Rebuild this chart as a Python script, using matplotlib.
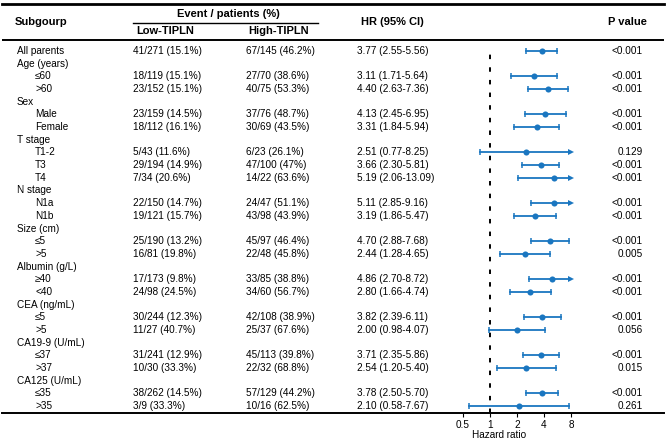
import numpy as np
import matplotlib
matplotlib.use('Agg')
import matplotlib.pyplot as plt

plt.rcParams['font.family'] = ['Liberation Sans', 'DejaVu Sans']

#-------------------------------------------------------------------------
# table data (None for group header rows)
labels = ['All parents', 'Age (years)', '\u226460', '>60', 'Sex', 'Male', 'Female',
          'T stage', 'T1-2', 'T3', 'T4', 'N stage', 'N1a', 'N1b',
          'Size (cm)', '\u22645', '>5', 'Albumin (g/L)', '\u226540', '<40',
          'CEA (ng/mL)', '\u22645', '>5', 'CA19-9 (U/mL)', '\u226437', '>37',
          'CA125 (U/mL)', '\u226435', '>35']
indent = [0, 0, 1, 1, 0, 1, 1, 0, 1, 1, 1, 0, 1, 1, 0, 1, 1, 0, 1, 1,
          0, 1, 1, 0, 1, 1, 0, 1, 1]
low_tipln = ['41/271 (15.1%)', None, '18/119 (15.1%)', '23/152 (15.1%)', None,
             '23/159 (14.5%)', '18/112 (16.1%)', None, '5/43 (11.6%)',
             '29/194 (14.9%)', '7/34 (20.6%)', None, '22/150 (14.7%)',
             '19/121 (15.7%)', None, '25/190 (13.2%)', '16/81 (19.8%)', None,
             '17/173 (9.8%)', '24/98 (24.5%)', None, '30/244 (12.3%)',
             '11/27 (40.7%)', None, '31/241 (12.9%)', '10/30 (33.3%)', None,
             '38/262 (14.5%)', '3/9 (33.3%)']
high_tipln = ['67/145 (46.2%)', None, '27/70 (38.6%)', '40/75 (53.3%)', None,
              '37/76 (48.7%)', '30/69 (43.5%)', None, '6/23 (26.1%)',
              '47/100 (47%)', '14/22 (63.6%)', None, '24/47 (51.1%)',
              '43/98 (43.9%)', None, '45/97 (46.4%)', '22/48 (45.8%)', None,
              '33/85 (38.8%)', '34/60 (56.7%)', None, '42/108 (38.9%)',
              '25/37 (67.6%)', None, '45/113 (39.8%)', '22/32 (68.8%)', None,
              '57/129 (44.2%)', '10/16 (62.5%)']
hr = [3.77, None, 3.11, 4.40, None, 4.13, 3.31, None, 2.51, 3.66, 5.19, None,
      5.11, 3.19, None, 4.70, 2.44, None, 4.86, 2.80, None, 3.82, 2.00, None,
      3.71, 2.54, None, 3.78, 2.10]
ci_low = [2.55, None, 1.71, 2.63, None, 2.45, 1.84, None, 0.77, 2.30, 2.06, None,
          2.85, 1.86, None, 2.88, 1.28, None, 2.70, 1.66, None, 2.39, 0.98, None,
          2.35, 1.20, None, 2.50, 0.58]
ci_high = [5.56, None, 5.64, 7.36, None, 6.95, 5.94, None, 8.25, 5.81, 13.09, None,
           9.16, 5.47, None, 7.68, 4.65, None, 8.72, 4.74, None, 6.11, 4.07, None,
           5.86, 5.40, None, 5.70, 7.67]
pvals = ['<0.001', None, '<0.001', '<0.001', None, '<0.001', '<0.001', None,
         '0.129', '<0.001', '<0.001', None, '<0.001', '<0.001', None, '<0.001',
         '0.005', None, '<0.001', '<0.001', None, '<0.001', '0.056', None,
         '<0.001', '0.015', None, '<0.001', '0.261']
xticks = [0.5, 1, 2, 4, 8]

#-------------------------------------------------------------------------
W, H = 667, 442
fig = plt.figure(figsize=(W/100.0, H/100.0), dpi=100)

# axes spans whole table, forest part uses log2 x scale
left_px, right_px = 2, 664
top_px, bot_px = 4, 413
ax = fig.add_axes([left_px/W, 1 - bot_px/H, (right_px-left_px)/W, (bot_px-top_px)/H])

row0_px, row_step = 51.0, 12.68
def row(px):
    return (px - row0_px)/row_step

one_px, px_per_oct = 490.0, 27.0
ax.set_xscale('log', base=2)
ax.set_xlim(2**((left_px-one_px)/px_per_oct), 2**((right_px-one_px)/px_per_oct))
ax.set_ylim(row(bot_px), row(top_px))

def fx(px):
    return (px - left_px)/(right_px - left_px)

tr = ax.get_yaxis_transform()
fs = 7.2
hfs = 8

# headers
ax.text(fx(15), row(22), 'Subgourp', transform=tr, fontsize=hfs, fontweight='bold', va='center')
ax.text(fx(228), row(14), 'Event / patients (%)', transform=tr, fontsize=hfs, fontweight='bold', va='center', ha='center')
ax.plot([fx(133), fx(318)], [row(23), row(23)], transform=tr, color='black', lw=1.0, clip_on=False)
ax.text(fx(165), row(31.5), 'Low-TIPLN', transform=tr, fontsize=hfs, fontweight='bold', va='center', ha='center')
ax.text(fx(279), row(31.5), 'High-TIPLN', transform=tr, fontsize=hfs, fontweight='bold', va='center', ha='center')
ax.text(fx(392), row(22), 'HR (95% CI)', transform=tr, fontsize=hfs, fontweight='bold', va='center', ha='center')
ax.text(fx(647), row(22), 'P value', transform=tr, fontsize=hfs, fontweight='bold', va='center', ha='right')
ax.axhline(row(40), color='black', lw=1.4)

# table rows
for i in range(len(labels)):
    x0 = 35 if indent[i] else 17
    ax.text(fx(x0), i, labels[i], transform=tr, fontsize=fs, va='center')
    if low_tipln[i] is not None:
        ax.text(fx(133), i, low_tipln[i], transform=tr, fontsize=fs, va='center')
        ax.text(fx(246), i, high_tipln[i], transform=tr, fontsize=fs, va='center')
        ax.text(fx(357), i, '%.2f (%.2f-%.2f)' % (hr[i], ci_low[i], ci_high[i]),
                transform=tr, fontsize=fs, va='center')
        ax.text(fx(643), i, pvals[i], transform=tr, fontsize=fs, va='center', ha='right')

# forest
blue = '#1a76c0'
xmax = 8
ax.axvline(1, ymin=0, ymax=(row(bot_px)-row(47))/(row(bot_px)-row(top_px)),
           color='black', lw=1.4, linestyle=(0, (2.3, 4.2)))
for i in range(len(labels)):
    if hr[i] is None:
        continue
    hi = min(ci_high[i], xmax)
    ax.plot([ci_low[i], hi], [i, i], color=blue, lw=1.3)
    ax.plot([ci_low[i]], [i], marker='|', color=blue, ms=4, mew=1.1)
    if ci_high[i] > xmax:
        ax.plot([xmax], [i], marker='>', color=blue, ms=4, mew=0)
    else:
        ax.plot([hi], [i], marker='|', color=blue, ms=4, mew=1.1)
    ax.plot([hr[i]], [i], marker='o', color=blue, ms=4.4, mew=0)

ax.set_xticks(xticks)
ax.set_xticklabels(['0.5', '1', '2', '4', '8'])
ax.xaxis.set_minor_locator(matplotlib.ticker.NullLocator())
ax.tick_params(axis='x', labelsize=fs, length=3, width=0.8, pad=2)
ax.set_yticks([])
ax.text(fx(499), row(435), 'Hazard ratio', transform=tr, fontsize=fs, va='center', ha='center', clip_on=False)

for s in ['left', 'right']:
    ax.spines[s].set_visible(False)
ax.spines['top'].set_linewidth(2.0)
ax.spines['bottom'].set_linewidth(1.4)

plt.savefig('out.png', dpi=100)
plt.close()
